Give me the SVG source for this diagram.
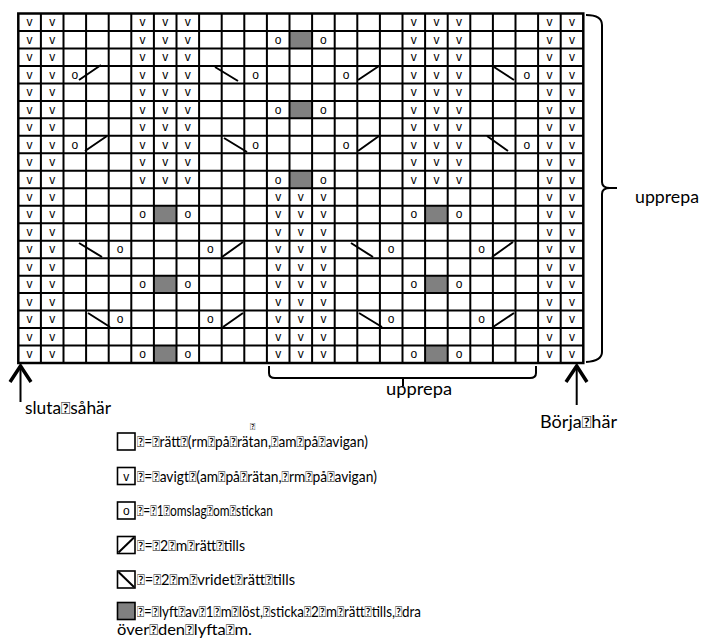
<svg xmlns="http://www.w3.org/2000/svg" width="702" height="641" viewBox="0 0 702 641">
<style>
.bg{fill:#ffffff}
.gr{fill:#808080}
.grid{stroke:#000;stroke-width:2;fill:none}
.frame{stroke:#000;stroke-width:2.5;fill:none}
.c{font-family:"Liberation Sans",Arial,sans-serif;font-size:12px;fill:#000;text-anchor:middle}
.d{stroke:#000;stroke-width:2;fill:none;stroke-linecap:butt}
.br{stroke:#000;stroke-width:2;fill:none}
.arh{stroke:#000;stroke-width:3.5;fill:none;stroke-linejoin:miter}
.ars{stroke:#000;stroke-width:2;fill:none}
.t{font-family:Lato,"Open Sans",sans-serif;font-size:15px;fill:#000}
.lab{font-family:Lato,"Open Sans",sans-serif;font-size:17px;fill:#000}
.lb{stroke:#000;stroke-width:1.6;fill:#fff}
.lg{stroke:#000;stroke-width:1.6;fill:#808080}
</style>
<rect class="bg" x="0" y="0" width="702" height="641"/>

<g id="chart">
<g id="shaded">
<rect class="gr" x="289.5" y="30.975" width="22.6" height="17.475"/>
<rect class="gr" x="289.5" y="100.875" width="22.6" height="17.475"/>
<rect class="gr" x="289.5" y="170.775" width="22.6" height="17.475"/>
<rect class="gr" x="153.9" y="205.725" width="22.6" height="17.475"/>
<rect class="gr" x="425.1" y="205.725" width="22.6" height="17.475"/>
<rect class="gr" x="153.9" y="275.625" width="22.6" height="17.475"/>
<rect class="gr" x="425.1" y="275.625" width="22.6" height="17.475"/>
<rect class="gr" x="153.9" y="345.525" width="22.6" height="17.475"/>
<rect class="gr" x="425.1" y="345.525" width="22.6" height="17.475"/>
</g>
<path id="gridlines" class="grid" d="M40.9,13.5V363M63.5,13.5V363M86.1,13.5V363M108.7,13.5V363M131.3,13.5V363M153.9,13.5V363M176.5,13.5V363M199.1,13.5V363M221.7,13.5V363M244.3,13.5V363M266.9,13.5V363M289.5,13.5V363M312.1,13.5V363M334.7,13.5V363M357.3,13.5V363M379.9,13.5V363M402.5,13.5V363M425.1,13.5V363M447.7,13.5V363M470.3,13.5V363M492.9,13.5V363M515.5,13.5V363M538.1,13.5V363M560.7,13.5V363M18.3,30.975H583.3M18.3,48.45H583.3M18.3,65.925H583.3M18.3,83.4H583.3M18.3,100.875H583.3M18.3,118.35H583.3M18.3,135.825H583.3M18.3,153.3H583.3M18.3,170.775H583.3M18.3,188.25H583.3M18.3,205.725H583.3M18.3,223.2H583.3M18.3,240.675H583.3M18.3,258.15H583.3M18.3,275.625H583.3M18.3,293.1H583.3M18.3,310.575H583.3M18.3,328.05H583.3M18.3,345.525H583.3"/>
<rect class="frame" x="18.3" y="13.5" width="565" height="349.5"/>

<g id="upper-v">
<g><text class="c" x="29.6" y="26.2">v</text><text class="c" x="52.2" y="26.2">v</text><text class="c" x="142.6" y="26.2">v</text><text class="c" x="165.2" y="26.2">v</text><text class="c" x="187.8" y="26.2">v</text><text class="c" x="413.8" y="26.2">v</text><text class="c" x="436.4" y="26.2">v</text><text class="c" x="459" y="26.2">v</text><text class="c" x="549.4" y="26.2">v</text><text class="c" x="572" y="26.2">v</text></g>
<g><text class="c" x="29.6" y="43.7">v</text><text class="c" x="52.2" y="43.7">v</text><text class="c" x="142.6" y="43.7">v</text><text class="c" x="165.2" y="43.7">v</text><text class="c" x="187.8" y="43.7">v</text><text class="c" x="413.8" y="43.7">v</text><text class="c" x="436.4" y="43.7">v</text><text class="c" x="459" y="43.7">v</text><text class="c" x="549.4" y="43.7">v</text><text class="c" x="572" y="43.7">v</text></g>
<g><text class="c" x="29.6" y="61.2">v</text><text class="c" x="52.2" y="61.2">v</text><text class="c" x="142.6" y="61.2">v</text><text class="c" x="165.2" y="61.2">v</text><text class="c" x="187.8" y="61.2">v</text><text class="c" x="413.8" y="61.2">v</text><text class="c" x="436.4" y="61.2">v</text><text class="c" x="459" y="61.2">v</text><text class="c" x="549.4" y="61.2">v</text><text class="c" x="572" y="61.2">v</text></g>
<g><text class="c" x="29.6" y="78.6">v</text><text class="c" x="52.2" y="78.6">v</text><text class="c" x="142.6" y="78.6">v</text><text class="c" x="165.2" y="78.6">v</text><text class="c" x="187.8" y="78.6">v</text><text class="c" x="413.8" y="78.6">v</text><text class="c" x="436.4" y="78.6">v</text><text class="c" x="459" y="78.6">v</text><text class="c" x="549.4" y="78.6">v</text><text class="c" x="572" y="78.6">v</text></g>
<g><text class="c" x="29.6" y="96.1">v</text><text class="c" x="52.2" y="96.1">v</text><text class="c" x="142.6" y="96.1">v</text><text class="c" x="165.2" y="96.1">v</text><text class="c" x="187.8" y="96.1">v</text><text class="c" x="413.8" y="96.1">v</text><text class="c" x="436.4" y="96.1">v</text><text class="c" x="459" y="96.1">v</text><text class="c" x="549.4" y="96.1">v</text><text class="c" x="572" y="96.1">v</text></g>
<g><text class="c" x="29.6" y="113.6">v</text><text class="c" x="52.2" y="113.6">v</text><text class="c" x="142.6" y="113.6">v</text><text class="c" x="165.2" y="113.6">v</text><text class="c" x="187.8" y="113.6">v</text><text class="c" x="413.8" y="113.6">v</text><text class="c" x="436.4" y="113.6">v</text><text class="c" x="459" y="113.6">v</text><text class="c" x="549.4" y="113.6">v</text><text class="c" x="572" y="113.6">v</text></g>
<g><text class="c" x="29.6" y="131.1">v</text><text class="c" x="52.2" y="131.1">v</text><text class="c" x="142.6" y="131.1">v</text><text class="c" x="165.2" y="131.1">v</text><text class="c" x="187.8" y="131.1">v</text><text class="c" x="413.8" y="131.1">v</text><text class="c" x="436.4" y="131.1">v</text><text class="c" x="459" y="131.1">v</text><text class="c" x="549.4" y="131.1">v</text><text class="c" x="572" y="131.1">v</text></g>
<g><text class="c" x="29.6" y="148.5">v</text><text class="c" x="52.2" y="148.5">v</text><text class="c" x="142.6" y="148.5">v</text><text class="c" x="165.2" y="148.5">v</text><text class="c" x="187.8" y="148.5">v</text><text class="c" x="413.8" y="148.5">v</text><text class="c" x="436.4" y="148.5">v</text><text class="c" x="459" y="148.5">v</text><text class="c" x="549.4" y="148.5">v</text><text class="c" x="572" y="148.5">v</text></g>
<g><text class="c" x="29.6" y="166">v</text><text class="c" x="52.2" y="166">v</text><text class="c" x="142.6" y="166">v</text><text class="c" x="165.2" y="166">v</text><text class="c" x="187.8" y="166">v</text><text class="c" x="413.8" y="166">v</text><text class="c" x="436.4" y="166">v</text><text class="c" x="459" y="166">v</text><text class="c" x="549.4" y="166">v</text><text class="c" x="572" y="166">v</text></g>
<g><text class="c" x="29.6" y="183.5">v</text><text class="c" x="52.2" y="183.5">v</text><text class="c" x="142.6" y="183.5">v</text><text class="c" x="165.2" y="183.5">v</text><text class="c" x="187.8" y="183.5">v</text><text class="c" x="413.8" y="183.5">v</text><text class="c" x="436.4" y="183.5">v</text><text class="c" x="459" y="183.5">v</text><text class="c" x="549.4" y="183.5">v</text><text class="c" x="572" y="183.5">v</text></g>
</g>

<g id="lower-v">
<g><text class="c" x="29.6" y="201">v</text><text class="c" x="52.2" y="201">v</text><text class="c" x="278.2" y="201">v</text><text class="c" x="300.8" y="201">v</text><text class="c" x="323.4" y="201">v</text><text class="c" x="549.4" y="201">v</text><text class="c" x="572" y="201">v</text></g>
<g><text class="c" x="29.6" y="218.4">v</text><text class="c" x="52.2" y="218.4">v</text><text class="c" x="278.2" y="218.4">v</text><text class="c" x="300.8" y="218.4">v</text><text class="c" x="323.4" y="218.4">v</text><text class="c" x="549.4" y="218.4">v</text><text class="c" x="572" y="218.4">v</text></g>
<g><text class="c" x="29.6" y="235.9">v</text><text class="c" x="52.2" y="235.9">v</text><text class="c" x="278.2" y="235.9">v</text><text class="c" x="300.8" y="235.9">v</text><text class="c" x="323.4" y="235.9">v</text><text class="c" x="549.4" y="235.9">v</text><text class="c" x="572" y="235.9">v</text></g>
<g><text class="c" x="29.6" y="253.4">v</text><text class="c" x="52.2" y="253.4">v</text><text class="c" x="278.2" y="253.4">v</text><text class="c" x="300.8" y="253.4">v</text><text class="c" x="323.4" y="253.4">v</text><text class="c" x="549.4" y="253.4">v</text><text class="c" x="572" y="253.4">v</text></g>
<g><text class="c" x="29.6" y="270.9">v</text><text class="c" x="52.2" y="270.9">v</text><text class="c" x="278.2" y="270.9">v</text><text class="c" x="300.8" y="270.9">v</text><text class="c" x="323.4" y="270.9">v</text><text class="c" x="549.4" y="270.9">v</text><text class="c" x="572" y="270.9">v</text></g>
<g><text class="c" x="29.6" y="288.3">v</text><text class="c" x="52.2" y="288.3">v</text><text class="c" x="278.2" y="288.3">v</text><text class="c" x="300.8" y="288.3">v</text><text class="c" x="323.4" y="288.3">v</text><text class="c" x="549.4" y="288.3">v</text><text class="c" x="572" y="288.3">v</text></g>
<g><text class="c" x="29.6" y="305.8">v</text><text class="c" x="52.2" y="305.8">v</text><text class="c" x="278.2" y="305.8">v</text><text class="c" x="300.8" y="305.8">v</text><text class="c" x="323.4" y="305.8">v</text><text class="c" x="549.4" y="305.8">v</text><text class="c" x="572" y="305.8">v</text></g>
<g><text class="c" x="29.6" y="323.3">v</text><text class="c" x="52.2" y="323.3">v</text><text class="c" x="278.2" y="323.3">v</text><text class="c" x="300.8" y="323.3">v</text><text class="c" x="323.4" y="323.3">v</text><text class="c" x="549.4" y="323.3">v</text><text class="c" x="572" y="323.3">v</text></g>
<g><text class="c" x="29.6" y="340.8">v</text><text class="c" x="52.2" y="340.8">v</text><text class="c" x="278.2" y="340.8">v</text><text class="c" x="300.8" y="340.8">v</text><text class="c" x="323.4" y="340.8">v</text><text class="c" x="549.4" y="340.8">v</text><text class="c" x="572" y="340.8">v</text></g>
<g><text class="c" x="29.6" y="358.2">v</text><text class="c" x="52.2" y="358.2">v</text><text class="c" x="278.2" y="358.2">v</text><text class="c" x="300.8" y="358.2">v</text><text class="c" x="323.4" y="358.2">v</text><text class="c" x="549.4" y="358.2">v</text><text class="c" x="572" y="358.2">v</text></g>
</g>

<g id="yarnovers">
<text class="c" x="278.2" y="43.7">o</text><text class="c" x="323.4" y="43.7">o</text>
<text class="c" x="74.8" y="78.6">o</text><text class="c" x="255.6" y="78.6">o</text><text class="c" x="346" y="78.6">o</text><text class="c" x="526.8" y="78.6">o</text>
<text class="c" x="278.2" y="113.6">o</text><text class="c" x="323.4" y="113.6">o</text>
<text class="c" x="74.8" y="148.5">o</text><text class="c" x="255.6" y="148.5">o</text><text class="c" x="346" y="148.5">o</text><text class="c" x="526.8" y="148.5">o</text>
<text class="c" x="278.2" y="183.5">o</text><text class="c" x="323.4" y="183.5">o</text>
<text class="c" x="142.6" y="218.4">o</text><text class="c" x="187.8" y="218.4">o</text><text class="c" x="413.8" y="218.4">o</text><text class="c" x="459" y="218.4">o</text>
<text class="c" x="120" y="253.4">o</text><text class="c" x="210.4" y="253.4">o</text><text class="c" x="391.2" y="253.4">o</text><text class="c" x="481.6" y="253.4">o</text>
<text class="c" x="142.6" y="288.3">o</text><text class="c" x="187.8" y="288.3">o</text><text class="c" x="413.8" y="288.3">o</text><text class="c" x="459" y="288.3">o</text>
<text class="c" x="120" y="323.3">o</text><text class="c" x="210.4" y="323.3">o</text><text class="c" x="391.2" y="323.3">o</text><text class="c" x="481.6" y="323.3">o</text>
<text class="c" x="142.6" y="358.2">o</text><text class="c" x="187.8" y="358.2">o</text><text class="c" x="413.8" y="358.2">o</text><text class="c" x="459" y="358.2">o</text>
</g>

<path id="decreases" class="d" d="M79,80L101,65M215,67L238,81M358,80L379,66M494,67L514,80M85,151L107,136M224,138L247,152M358,151L379,136M487,136L508,151M79,243L102,257M222,257L243,242M351,243L373,257M492,257L513,242M88,313L110,327M223,327L243,313M359,313L382,327M493,327L514,313"/>
</g>

<g id="connectors">
<path class="br" d="M586,15Q602,15 602,25L602,182Q602,188 610,188L617,188M610,188Q602,188 602,194L602,352Q602,361 586,362"/>
<path class="br" d="M269,366L269,373Q269,378 275,378L530,378Q536,378 536,373L536,366M403,378L403,386"/>
<path class="ars" d="M20.5,368L20.5,402"/>
<path class="arh" d="M10,382L20.5,366L31,382"/>
<path class="ars" d="M576.7,368L576.7,405"/>
<path class="arh" d="M566,382L576.7,366L587,382"/>
</g>

<g id="labels">
<text id="sluta" class="lab" x="25" y="414" textLength="86" lengthAdjust="spacingAndGlyphs">sluta&#xF020;såhär</text>
<text id="borja" class="lab" x="540" y="428" textLength="77" lengthAdjust="spacingAndGlyphs">Börja&#xF020;här</text>
<text id="upprepa-bottom" class="lab" x="386" y="395" textLength="66" lengthAdjust="spacingAndGlyphs">upprepa</text>
<text id="upprepa-right" class="lab" x="635" y="203" textLength="64" lengthAdjust="spacingAndGlyphs">upprepa</text>
<text id="stray" class="t" x="250" y="429.5" style="font-size:10px">&#xF020;</text>
</g>

<g id="legend">
<g id="leg-ratt"><rect class="lb" x="117.5" y="433" width="17.5" height="17"/><text class="t" x="137" y="447" textLength="231" lengthAdjust="spacingAndGlyphs">&#xF020;=&#xF020;rätt&#xF020;(rm&#xF020;på&#xF020;rätan,&#xF020;am&#xF020;på&#xF020;avigan)</text></g>
<g id="leg-avigt"><rect class="lb" x="117.5" y="467.5" width="17.5" height="17"/><text class="c" x="126.3" y="480.5">v</text><text class="t" x="137" y="481.5" textLength="240" lengthAdjust="spacingAndGlyphs">&#xF020;=&#xF020;avigt&#xF020;(am&#xF020;på&#xF020;rätan,&#xF020;rm&#xF020;på&#xF020;avigan)</text></g>
<g id="leg-omslag"><rect class="lb" x="117.5" y="502" width="17.5" height="17"/><text class="c" x="126.3" y="515">o</text><text class="t" x="137" y="516" textLength="136" lengthAdjust="spacingAndGlyphs">&#xF020;=&#xF020;1&#xF020;omslag&#xF020;om&#xF020;stickan</text></g>
<g id="leg-tills"><rect class="lb" x="117.5" y="536.5" width="17.5" height="17"/><path class="d" d="M118.5,552.5L134,537.5"/><text class="t" x="137" y="550.5" textLength="108" lengthAdjust="spacingAndGlyphs">&#xF020;=&#xF020;2&#xF020;m&#xF020;rätt&#xF020;tills</text></g>
<g id="leg-vridet"><rect class="lb" x="117.5" y="571" width="17.5" height="17"/><path class="d" d="M118.5,572L134,587"/><text class="t" x="137" y="585" textLength="158" lengthAdjust="spacingAndGlyphs">&#xF020;=&#xF020;2&#xF020;m&#xF020;vridet&#xF020;rätt&#xF020;tills</text></g>
<g id="leg-lyft"><rect class="lg" x="117.5" y="602.5" width="17.5" height="17"/><text class="t" x="137" y="616.5" textLength="284" lengthAdjust="spacingAndGlyphs">&#xF020;=&#xF020;lyft&#xF020;av&#xF020;1&#xF020;m&#xF020;löst,&#xF020;sticka&#xF020;2&#xF020;m&#xF020;rätt&#xF020;tills,&#xF020;dra</text><text class="t" x="117" y="635" textLength="135" lengthAdjust="spacingAndGlyphs">över&#xF020;den&#xF020;lyfta&#xF020;m.</text></g>
</g>
</svg>
